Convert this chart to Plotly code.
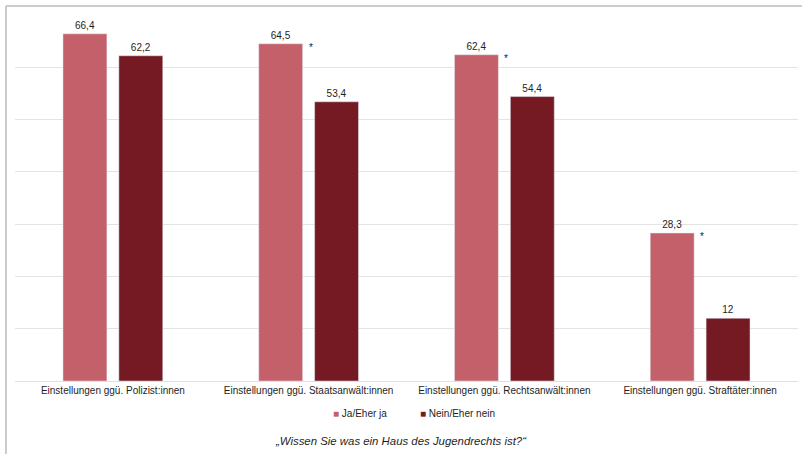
import plotly.graph_objects as go

categories = ["Einstellungen ggü. Polizist:innen", "Einstellungen ggü. Staatsanwält:innen",
              "Einstellungen ggü. Rechtsanwält:innen", "Einstellungen ggü. Straftäter:innen"]
ja_values = [66.4, 64.5, 62.4, 28.3]
nein_values = [62.2, 53.4, 54.4, 12]
significant = [False, True, True, True]
series_names = ["Ja/Eher ja", "Nein/Eher nein"]

LIGHT = "#C4606A"
DARK = "#751A22"
FONT = "Liberation Sans, Arial, sans-serif"
TXT = "#1E1E1E"


def fmt(v):
    s = ("%g" % v)
    return s.replace(".", ",")


fig = go.Figure()
fig.add_trace(go.Bar(x=categories, y=ja_values, name=series_names[0], marker_color=LIGHT,
                     text=[fmt(v) for v in ja_values], textposition="outside", cliponaxis=False,
                     textfont=dict(size=10, color=TXT), showlegend=False))
fig.add_trace(go.Bar(x=categories, y=nein_values, name=series_names[1], marker_color=DARK,
                     text=[fmt(v) for v in nein_values], textposition="outside", cliponaxis=False,
                     textfont=dict(size=10, color=TXT), showlegend=False))

for cat, v, sig in zip(categories, ja_values, significant):
    if sig:
        fig.add_annotation(x=cat, y=v, text="*", showarrow=False, xshift=2, yshift=4,
                           yanchor="top", font=dict(size=10, color=TXT, family=FONT))

# legend drawn as annotations (small square markers)
for name, col, xp in zip(series_names, [LIGHT, DARK], [0.4035, 0.5146]):
    fig.add_annotation(xref="paper", yref="paper", x=xp, y=-0.090, xanchor="left", yanchor="middle",
                       text="<span style='color:%s'>■</span> %s" % (col, name),
                       showarrow=False, font=dict(size=10, color=TXT, family=FONT))

fig.add_annotation(xref="paper", yref="paper", x=0.493, y=-0.164, yanchor="middle",
                   text="<i>„Wissen Sie was ein Haus des Jugendrechts ist?“</i>",
                   showarrow=False, font=dict(size=11.4, color=TXT, family=FONT))

# outer frame lines
fig.add_shape(type="line", xref="paper", yref="paper", x0=-0.0115, x1=1.02, y0=1.0246, y1=1.0246,
              line=dict(color="#BBBBBB", width=1.5))
fig.add_shape(type="line", xref="paper", yref="paper", x0=-0.0115, x1=-0.0115, y0=1.0246, y1=-0.3,
              line=dict(color="#BBBBBB", width=1.5))

fig.update_layout(
    width=802, height=454,
    margin=dict(l=15, r=4, t=15, b=73),
    paper_bgcolor="white", plot_bgcolor="white",
    barmode="group", bargap=0.429, bargroupgap=0.214,
    font=dict(family=FONT, size=10, color=TXT),
    showlegend=False,
    xaxis=dict(showline=True, linecolor="#E0E0E0", ticks="", tickfont=dict(size=10), fixedrange=True),
    yaxis=dict(range=[0, 70], dtick=10, showgrid=True, gridcolor="#E3E3E3", gridwidth=1,
               showticklabels=False, zeroline=False, fixedrange=True),
)

fig.write_html("out.html", config={"displayModeBar": False},
               post_script="document.body.style.margin='0';document.body.style.overflow='hidden';")
